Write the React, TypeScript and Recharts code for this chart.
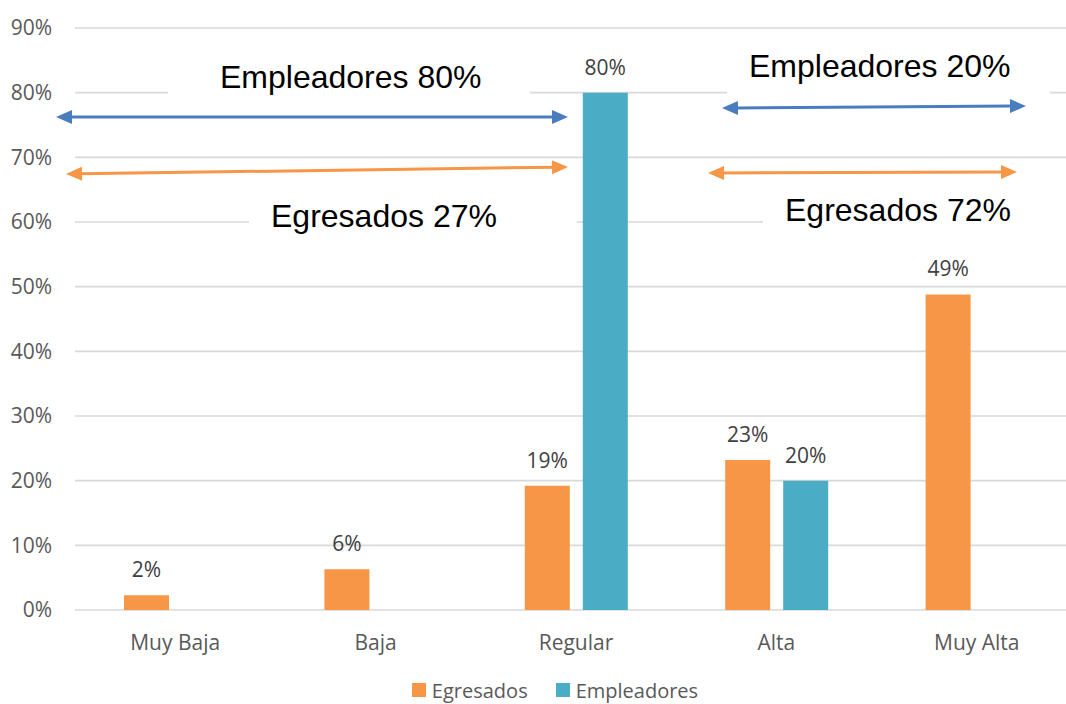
import React from 'react';
import { BarChart, Bar, XAxis, YAxis, CartesianGrid, Legend, LabelList } from 'recharts';

// Rating categories and the share of each group (percent)
const categories = ['Muy Baja', 'Baja', 'Regular', 'Alta', 'Muy Alta'];
const egresados = [2.3, 6.3, 19.2, 23.2, 48.8];
const empleadores = [0, 0, 80, 20, 0];
const yTicks = [0, 10, 20, 30, 40, 50, 60, 70, 80, 90];
const seriesNames = ['Egresados', 'Empleadores'];
const seriesColors = ['#f79646', '#4bacc6'];

// Grouped totals written next to the arrows
const noteTexts = ['Empleadores 80%', 'Egresados 27%', 'Empleadores 20%', 'Egresados 72%'];

const data = categories.map((name, i) => ({
  name,
  Egresados: egresados[i],
  Empleadores: empleadores[i],
}));

const FONT = '"Open Sans", sans-serif';
const NOTE_FONT = '"Liberation Sans", Arial, sans-serif';

// Layout of the callouts drawn over the plot
const notes = [
  { text: noteTexts[0], x: 220, y: 88, box: [168, 50, 362, 52] },
  { text: noteTexts[1], x: 271, y: 227, box: [249, 192, 328, 48] },
  { text: noteTexts[2], x: 749, y: 77, box: [727, 40, 323, 60] },
  { text: noteTexts[3], x: 785, y: 221, box: [763, 186, 320, 50] },
];

const arrows = [
  { x1: 56, y1: 117, x2: 568, y2: 117, color: '#4a7dbf' },
  { x1: 66, y1: 174, x2: 568, y2: 167, color: '#f79646' },
  { x1: 722, y1: 108, x2: 1026, y2: 106, color: '#4a7dbf' },
  { x1: 708, y1: 173, x2: 1017, y2: 172, color: '#f79646' },
];

function DoubleArrow({ x1, y1, x2, y2, color }: any) {
  const dx = x2 - x1;
  const dy = y2 - y1;
  const len = Math.hypot(dx, dy);
  const ux = dx / len;
  const uy = dy / len;
  const px = -uy;
  const py = ux;
  const L = 16;
  const W = 7;
  const head = (tx: number, ty: number, dir: number) => {
    const bx = tx - dir * ux * L;
    const by = ty - dir * uy * L;
    return `${tx},${ty} ${bx + px * W},${by + py * W} ${bx - px * W},${by - py * W}`;
  };
  return (
    <g>
      <line
        x1={x1 + ux * L * 0.8}
        y1={y1 + uy * L * 0.8}
        x2={x2 - ux * L * 0.8}
        y2={y2 - uy * L * 0.8}
        stroke={color}
        strokeWidth={3}
      />
      <polygon points={head(x1, y1, -1)} fill={color} />
      <polygon points={head(x2, y2, 1)} fill={color} />
    </g>
  );
}

const renderValueLabel = (props: any) => {
  const { x, y, width, value } = props;
  if (!value) return null;
  return (
    <text
      x={Number(x) + Number(width) / 2}
      y={Number(y) - 18}
      textAnchor="middle"
      fill="#404040"
      fontSize={21}
      fontFamily={FONT}
    >
      {Math.round(Number(value))}%
    </text>
  );
};

const renderLegend = () => (
  <div
    style={{
      display: 'flex',
      justifyContent: 'center',
      alignItems: 'center',
      paddingLeft: 33,
      height: 34,
      fontFamily: FONT,
      fontSize: 20,
      color: '#595959',
    }}
  >
    {seriesNames.map((n, i) => (
      <span
        key={n}
        style={{ display: 'flex', alignItems: 'center', marginRight: i === 0 ? 28 : 0 }}
      >
        <span
          style={{
            display: 'inline-block',
            width: 14,
            height: 14,
            background: seriesColors[i],
            marginRight: 6,
          }}
        />
        {n}
      </span>
    ))}
  </div>
);

export default function App() {
  return (
    <div
      style={{
        position: 'absolute',
        left: 0,
        top: 0,
        width: 1066,
        height: 704,
        overflow: 'hidden',
        background: '#ffffff',
      }}
    >
      <BarChart
        width={1090}
        height={707}
        data={data}
        margin={{ top: 28, right: 13, left: 0, bottom: 0 }}
        barSize={45}
        barGap={13}
      >
        <CartesianGrid vertical={false} stroke="#d9d9d9" strokeWidth={1.6} />
        <XAxis
          dataKey="name"
          axisLine={false}
          tickLine={false}
          tickSize={0}
          tickMargin={25}
          height={63}
          interval={0}
          tick={{ fill: '#595959', fontSize: 21, fontFamily: FONT }}
        />
        <YAxis
          domain={[0, 90]}
          ticks={yTicks}
          width={75}
          axisLine={false}
          tickLine={false}
          tickSize={0}
          tickMargin={23}
          tickFormatter={(v: number) => `${v}%`}
          tick={{ fill: '#595959', fontSize: 21, fontFamily: FONT }}
        />
        <Legend verticalAlign="bottom" height={34} content={renderLegend} />
        <Bar dataKey="Egresados" fill={seriesColors[0]} isAnimationActive={false}>
          <LabelList dataKey="Egresados" content={renderValueLabel} />
        </Bar>
        <Bar dataKey="Empleadores" fill={seriesColors[1]} isAnimationActive={false}>
          <LabelList dataKey="Empleadores" content={renderValueLabel} />
        </Bar>
      </BarChart>
      <svg
        width={1066}
        height={704}
        style={{ position: 'absolute', left: 0, top: 0, pointerEvents: 'none' }}
      >
        {notes.map((n) => (
          <rect key={`b-${n.text}`} x={n.box[0]} y={n.box[1]} width={n.box[2]} height={n.box[3]} fill="#ffffff" />
        ))}
        {arrows.map((a, i) => (
          <DoubleArrow key={i} {...a} />
        ))}
        {notes.map((n) => (
          <text key={n.text} x={n.x} y={n.y} fontSize={32} fontFamily={NOTE_FONT} fill="#000000">
            {n.text}
          </text>
        ))}
      </svg>
    </div>
  );
}
